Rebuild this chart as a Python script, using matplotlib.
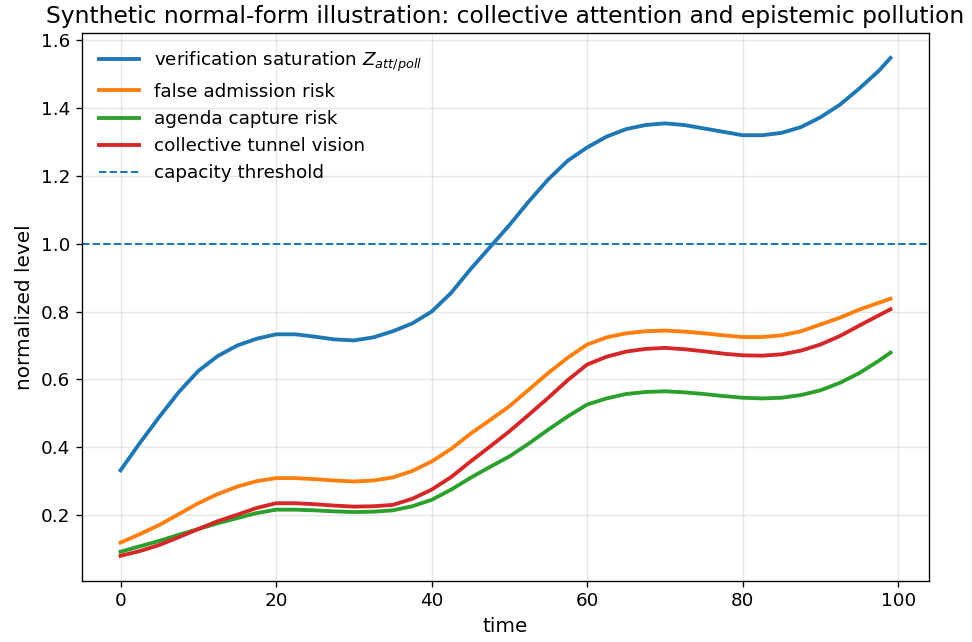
import matplotlib
matplotlib.use('Agg')
import matplotlib.pyplot as plt

# values every 2.5 time steps (last point at t=99)
time = [0, 2.5, 5, 7.5, 10, 12.5, 15, 17.5, 20, 22.5, 25, 27.5, 30, 32.5, 35, 37.5,
        40, 42.5, 45, 47.5, 50, 52.5, 55, 57.5, 60, 62.5, 65, 67.5, 70, 72.5, 75, 77.5,
        80, 82.5, 85, 87.5, 90, 92.5, 95, 97.5, 99]
z_sat = [0.332, 0.413, 0.49, 0.563, 0.625, 0.669, 0.70, 0.72, 0.733, 0.733, 0.726, 0.718,
         0.715, 0.724, 0.742, 0.765, 0.800, 0.855, 0.925, 0.99, 1.055, 1.125, 1.19, 1.245,
         1.284, 1.316, 1.338, 1.350, 1.355, 1.350, 1.34, 1.330, 1.32, 1.320, 1.327, 1.344,
         1.373, 1.41, 1.458, 1.51, 1.548]
false_adm = [0.119, 0.144, 0.171, 0.203, 0.235, 0.262, 0.284, 0.300, 0.309, 0.309, 0.306,
             0.302, 0.299, 0.302, 0.311, 0.330, 0.358, 0.395, 0.440, 0.480, 0.521, 0.570,
             0.619, 0.664, 0.703, 0.724, 0.736, 0.742, 0.744, 0.741, 0.736, 0.730, 0.725,
             0.725, 0.730, 0.742, 0.762, 0.782, 0.806, 0.826, 0.838]
agenda = [0.092, 0.108, 0.124, 0.142, 0.159, 0.176, 0.191, 0.206, 0.216, 0.216, 0.214,
          0.211, 0.209, 0.210, 0.214, 0.226, 0.245, 0.275, 0.310, 0.342, 0.373, 0.411,
          0.452, 0.491, 0.526, 0.544, 0.557, 0.563, 0.565, 0.562, 0.557, 0.551, 0.546,
          0.544, 0.546, 0.554, 0.568, 0.590, 0.619, 0.655, 0.679]
tunnel = [0.080, 0.094, 0.112, 0.135, 0.159, 0.182, 0.201, 0.221, 0.235, 0.235, 0.232,
          0.228, 0.225, 0.226, 0.230, 0.248, 0.275, 0.312, 0.358, 0.402, 0.447, 0.496,
          0.546, 0.598, 0.644, 0.667, 0.682, 0.690, 0.693, 0.689, 0.683, 0.676, 0.671,
          0.670, 0.674, 0.685, 0.703, 0.728, 0.759, 0.789, 0.807]
threshold = 1.0

plt.rcParams['font.size'] = 11

fig = plt.figure(figsize=(973 / 120, 642 / 120), dpi=120)
ax = fig.add_subplot(111)
fig.subplots_adjust(left=0.0843, right=0.9548, top=0.9486, bottom=0.0955)

lw = 2.3
ax.plot(time, z_sat, color='C0', linewidth=lw, label=r'verification saturation $Z_{att/poll}$')
ax.plot(time, false_adm, color='C1', linewidth=lw, label='false admission risk')
ax.plot(time, agenda, color='C2', linewidth=lw, label='agenda capture risk')
ax.plot(time, tunnel, color='C3', linewidth=lw, label='collective tunnel vision')
ax.axhline(threshold, color='C0', linestyle='--', linewidth=1.2, label='capacity threshold')

ax.set_title('Synthetic normal-form illustration: collective attention and epistemic pollution', fontsize=14)
ax.set_xlabel('time', fontsize=12)
ax.set_ylabel('normalized level', fontsize=12)
ax.grid(True, alpha=0.3)
ax.legend(loc='upper left', frameon=False, handlelength=2.2)

fig.savefig('out.png', dpi=120)
